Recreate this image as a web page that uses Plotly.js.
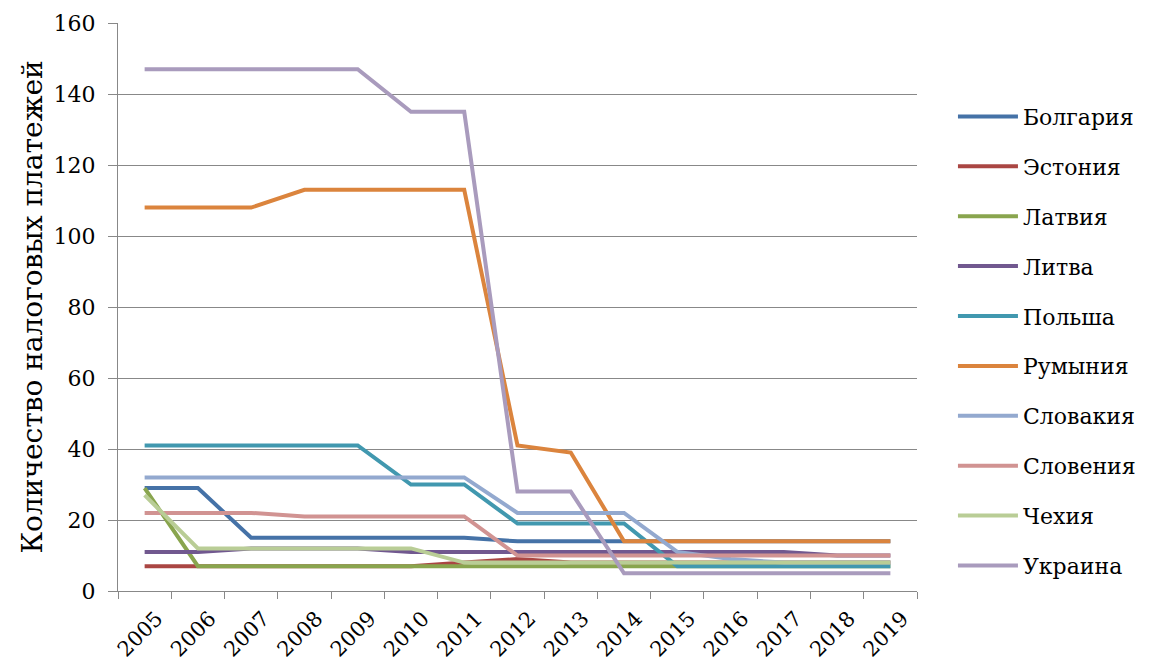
<!DOCTYPE html>
<html>
<head>
<meta charset="utf-8">
<script src="https://cdn.plot.ly/plotly-3.0.1.min.js"></script>
<style>html,body{margin:0;padding:0;background:#fff;}#chart{width:1153px;height:664px;}</style>
</head>
<body>
<div id="chart"></div>
<script>
const years = ['2005','2006','2007','2008','2009','2010','2011','2012','2013','2014','2015','2016','2017','2018','2019'];
const countries = ['Болгария','Эстония','Латвия','Литва','Польша','Румыния','Словакия','Словения','Чехия','Украина'];
const bulgaria  = [29,29,15,15,15,15,15,14,14,14,14,14,14,14,14];
const estonia   = [7,7,7,7,7,7,8,9,8,8,8,8,8,8,8];
const latvia    = [29,7,7,7,7,7,7,7,7,7,7,7,7,7,7];
const lithuania = [11,11,12,12,12,11,11,11,11,11,11,11,11,10,10];
const poland    = [41,41,41,41,41,30,30,19,19,19,7,7,7,7,7];
const romania   = [108,108,108,113,113,113,113,41,39,14,14,14,14,14,14];
const slovakia  = [32,32,32,32,32,32,32,22,22,22,11,9,8,8,8];
const slovenia  = [22,22,22,21,21,21,21,10,10,10,10,10,10,10,10];
const czech     = [27,12,12,12,12,12,8,8,8,8,8,8,8,8,8];
const ukraine   = [147,147,147,147,147,135,135,28,28,5,5,5,5,5,5];
const seriesValues = [bulgaria,estonia,latvia,lithuania,poland,romania,slovakia,slovenia,czech,ukraine];
const colors = ['#4572A7','#AA4643','#89A54E','#71588F','#4198AF','#DB843D','#93A9CF','#D19392','#B9CD96','#A99BBD'];

const traces = countries.map((name,i)=>({
  x: years, y: seriesValues[i], name: name, type:'scatter', mode:'lines',
  line:{color:colors[i], width:4}, legendgroup:'g'+i, hoverinfo:'skip'
}));

const FAM = 'DejaVu Serif';
const layout = {
  width:1153, height:664,
  margin:{l:118, r:236, t:23, b:73},
  paper_bgcolor:'#fff', plot_bgcolor:'#fff',
  showlegend:true,
  font: {family:FAM, color:'#000'},
  xaxis:{
    type:'category', range:[-0.5,14.5], tickson:'boundaries', ticks:'outside', ticklen:7, tickcolor:'#888',
    showline:true, linecolor:'#888', linewidth:1, showgrid:false,
    tickangle:-45, ticklabelshift:12, ticklabelstandoff:6,
    tickfont:{family:FAM, size:21, color:'#000'}
  },
  yaxis:{
    range:[0,160], dtick:20, ticks:'outside', ticklen:9, tickcolor:'#888',
    showline:true, linecolor:'#888', linewidth:1, gridcolor:'#888', gridwidth:1,
    zeroline:false, ticklabelstandoff:8,
    tickfont:{family:FAM, size:22, color:'#000'},
    title:{text:'Количество налоговых платежей', font:{family:FAM, size:28, color:'#000'}, standoff:2}
  },
  legend:{
    x:1.045, xanchor:'left', y:0.44, yanchor:'middle',
    font:{family:FAM, size:22, color:'#000'},
    traceorder:'grouped', tracegroupgap:18.3, itemwidth:60, bgcolor:'rgba(0,0,0,0)'
  }
};
Plotly.newPlot('chart', traces, layout, {displayModeBar:false, staticPlot:true});
</script>
</body>
</html>
